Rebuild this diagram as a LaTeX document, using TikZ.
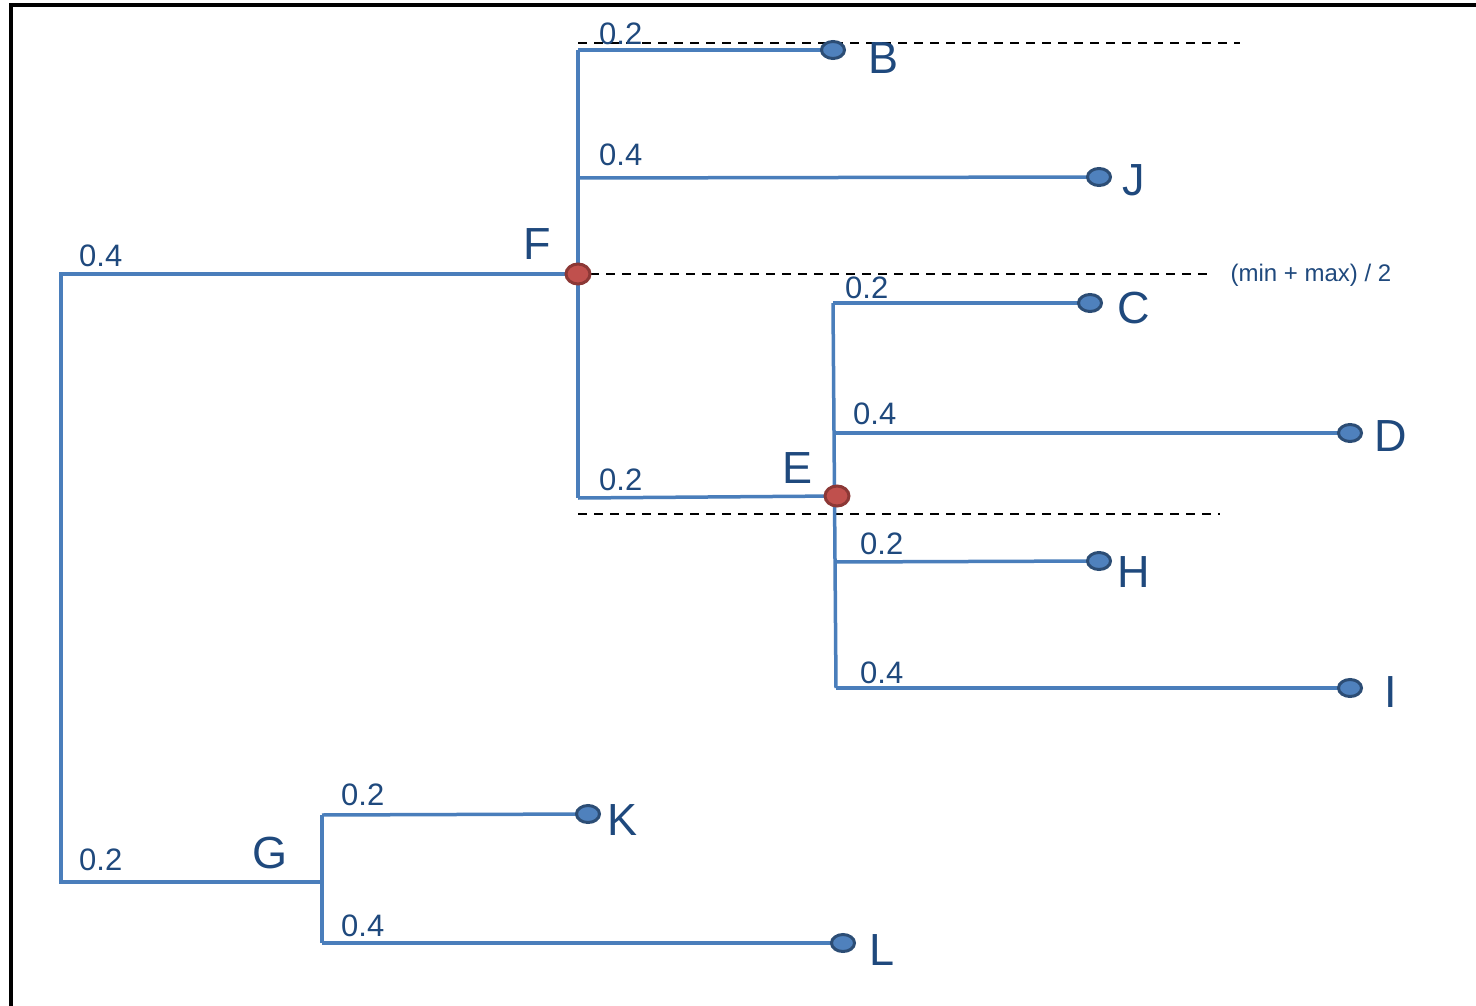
\documentclass[tikz,border=0pt]{standalone}
\usepackage{fontspec}
\setmainfont{Liberation Sans}
\usetikzlibrary{shapes.geometric}
\definecolor{branch}{HTML}{4A7EBB}
\definecolor{txt}{HTML}{1F497D}
\definecolor{leaffill}{HTML}{4F81BD}
\definecolor{leafdraw}{HTML}{2C4D75}
\definecolor{redfill}{HTML}{C0504D}
\definecolor{reddraw}{HTML}{8C3836}
\begin{document}
\begin{tikzpicture}[x=1pt,y=-1pt,
  br/.style={draw=branch,line width=3.5pt},
  leaf/.style={ellipse,fill=leaffill,draw=leafdraw,line width=3pt,minimum width=23pt,minimum height=17pt,inner sep=0pt},
  inner/.style={ellipse,fill=redfill,draw=reddraw,line width=3pt,minimum width=24pt,minimum height=20pt,inner sep=0pt},
  lbl/.style={text=txt,font=\fontsize{45}{45}\selectfont,inner sep=0pt},
  wt/.style={text=txt,font=\fontsize{31}{31}\selectfont,inner sep=0pt,anchor=base west},
  dsh/.style={draw=black,line width=2pt,dash pattern=on 9pt off 7pt}]
\useasboundingbox (0,0) rectangle (1476,1006);
\fill[white] (0,0) rectangle (1476,1006);
\draw[line width=4.5pt,line cap=rect] (11,1010) -- (11,5) -- (1480,5);

% coordinates
\coordinate (root) at (61,274);
\coordinate (rootb) at (61,882);
\coordinate (ftop) at (578,50);
\coordinate (fj) at (578,178);
\coordinate (fbot) at (578,498);
\coordinate (etop) at (833,303);
\coordinate (ed) at (835,433);
\coordinate (eh) at (836,562);
\coordinate (ebot) at (836,688);
\coordinate (gtop) at (322,815);
\coordinate (gbot) at (322,943);

% dashed lines
\coordinate (d1a) at (578,43); \coordinate (d1b) at (1240,43);
\coordinate (d2a) at (590,274); \coordinate (d2b) at (1212,274);
\coordinate (d3a) at (578,514); \coordinate (d3b) at (1220,514);
\draw[dsh] (d1a) -- (d1b);
\draw[dsh] (d2a) -- (d2b);
\draw[dsh] (d3a) -- (d3b);

% node positions
\coordinate (F) at (578,274);
\coordinate (E) at (837,496);
\coordinate (B) at (833,50);
\coordinate (J) at (1099,177);
\coordinate (C) at (1090,303);
\coordinate (D) at (1350,433);
\coordinate (H) at (1099,561);
\coordinate (I) at (1350,688);
\coordinate (K) at (588,814);
\coordinate (L) at (843,943);
\coordinate (G) at (322,882);

% branches
\draw[br] (F) -- (root) -- (rootb) -- (G);
\draw[br] (ftop) -- (fbot);
\draw[br] (ftop) -- (B);
\draw[br] (fj) -- (J);
\draw[br] (fbot) -- (E);
\draw[br] (etop) -- (ebot);
\draw[br] (etop) -- (C);
\draw[br] (ed) -- (D);
\draw[br] (eh) -- (H);
\draw[br] (ebot) -- (I);
\draw[br] (gtop) -- (gbot);
\draw[br] (gtop) -- (K);
\draw[br] (gbot) -- (L);

% dots
\node[inner] (nF) at (F) {};
\node[inner] (nE) at (E) {};
\foreach \n in {B,J,C,D,H,I,K,L} {\node[leaf] (n\n) at (\n) {};}

% node labels
\node[lbl] (tB) at (883,58) {B};
\node[lbl] (tJ) at (1134,180) {J};
\node[lbl] (tF) at (537,244) {F};
\node[lbl] (tC) at (1134,308) {C};
\node[lbl] (tD) at (1391,436) {D};
\node[lbl] (tE) at (797,468) {E};
\node[lbl] (tH) at (1134,572) {H};
\node[lbl] (tI) at (1391,692) {I};
\node[lbl] (tG) at (270,853) {G};
\node[lbl] (tK) at (623,820) {K};
\node[lbl] (tL) at (882,950) {L};

% weights
\node[wt] (w1) at (79,266) {0.4};
\node[wt] (w2) at (599,45) {0.2};
\node[wt] (w3) at (599,166) {0.4};
\node[wt] (w4) at (599,490) {0.2};
\node[wt] (w5) at (845,298) {0.2};
\node[wt] (w6) at (853,424) {0.4};
\node[wt] (w7) at (860,554) {0.2};
\node[wt] (w8) at (860,683) {0.4};
\node[wt] (w9) at (79,870) {0.2};
\node[wt] (w10) at (341,805) {0.2};
\node[wt] (w11) at (341,936) {0.4};

\node[text=txt,font=\fontsize{24}{24}\selectfont,inner sep=0pt] (mm) at (1311,275) {(min + max) / 2};
\end{tikzpicture}
\end{document}
